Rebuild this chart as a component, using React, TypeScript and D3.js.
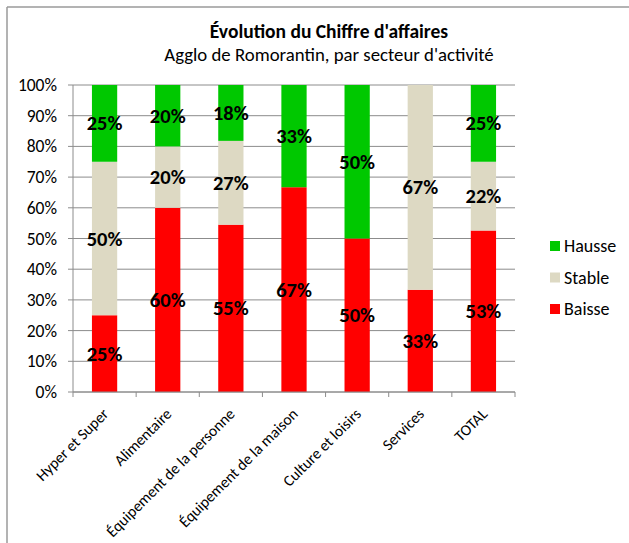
import * as d3 from 'd3';

const categories = [
  'Hyper et Super',
  'Alimentaire',
  'Équipement de la personne',
  'Équipement de la maison',
  'Culture et loisirs',
  'Services',
  'TOTAL',
];
const seriesNames = ['Baisse', 'Stable', 'Hausse'];
const baisse = [25, 60, 54.5, 66.7, 50, 33.3, 52.6];
const stable = [50, 20, 27.3, 0, 0, 66.7, 22.4];
const hausse = [25, 20, 18.2, 33.3, 50, 0, 25];
const yTicks = [0, 10, 20, 30, 40, 50, 60, 70, 80, 90, 100];

const colors: Record<string, string> = {
  Baisse: '#ff0000',
  Stable: '#ddd9c3',
  Hausse: '#00c800',
};

const FONT = 'Calibri, Carlito, Lato, sans-serif';

export default function App() {
  const width = 629;
  const height = 543;
  const plot = { left: 73, right: 515, top: 85, bottom: 392 };

  const rows = categories.map((c, i) => ({
    cat: c,
    Baisse: baisse[i],
    Stable: stable[i],
    Hausse: hausse[i],
  }));
  const stacked = d3.stack<any>().keys(seriesNames)(rows);

  const x = d3.scaleBand().domain(categories).range([plot.left, plot.right]).padding(0);
  const y = d3.scaleLinear().domain([0, 100]).range([plot.bottom, plot.top]);
  const barW = x.bandwidth() * 0.4;
  const grid = '#8c8c8c';

  // legend shown top-down: Hausse, Stable, Baisse
  const legendItems = [...seriesNames].reverse();

  return (
    <div style={{ position: 'fixed', left: 0, top: 0 }}>
      <svg width={width} height={height} style={{ display: 'block', background: '#fff' }}>
        {/* chart frame */}
        <line x1={7} x2={width} y1={7} y2={7} stroke="#9a9a9a" strokeWidth={1.5} />
        <line x1={7} x2={7} y1={7} y2={height} stroke="#9a9a9a" strokeWidth={1.5} />

        {/* titles */}
        <text x={329} y={38} textAnchor="middle" fontFamily={FONT} fontWeight="bold" fontSize={19.5} fill="#000">
          Évolution du Chiffre d'affaires
        </text>
        <text x={329} y={61} textAnchor="middle" fontFamily={FONT} fontSize={18.8} fill="#000">
          Agglo de Romorantin, par secteur d'activité
        </text>

        {/* gridlines + y axis */}
        {yTicks.map(t => (
          <g key={t}>
            <line x1={plot.left - 5} x2={plot.right} y1={y(t)} y2={y(t)} stroke={grid} strokeWidth={1} />
            <text
              x={57}
              y={y(t)}
              textAnchor="end"
              dominantBaseline="central"
              fontFamily={FONT}
              fontSize={17.5}
              fill="#000"
            >
              {t}%
            </text>
          </g>
        ))}
        <line x1={plot.left} x2={plot.left} y1={plot.top} y2={plot.bottom} stroke={grid} strokeWidth={1} />

        {/* bars */}
        {stacked.map(s => (
          <g key={s.key} fill={colors[s.key]}>
            {s.map((d, i) => {
              const h = y(d[0]) - y(d[1]);
              if (h <= 0) return null;
              return (
                <rect
                  key={i}
                  x={x(categories[i])! + (x.bandwidth() - barW) / 2}
                  y={y(d[1])}
                  width={barW}
                  height={h}
                />
              );
            })}
          </g>
        ))}

        {/* data labels */}
        {stacked.map(s => (
          <g key={s.key + '-lbl'}>
            {s.map((d, i) => {
              const v = d[1] - d[0];
              if (v <= 0) return null;
              return (
                <text
                  key={i}
                  x={x(categories[i])! + x.bandwidth() / 2}
                  y={y((d[0] + d[1]) / 2)}
                  textAnchor="middle"
                  dominantBaseline="central"
                  fontFamily={FONT}
                  fontWeight="bold"
                  fontSize={20.5}
                  fill="#000"
                >
                  {Math.round(v)}%
                </text>
              );
            })}
          </g>
        ))}

        {/* x axis */}
        <line x1={plot.left} x2={plot.right} y1={plot.bottom} y2={plot.bottom} stroke={grid} strokeWidth={1} />
        {[...categories.map(c => x(c)!), plot.right].map((px, i) => (
          <line key={i} x1={px} x2={px} y1={plot.bottom} y2={plot.bottom + 5} stroke={grid} strokeWidth={1} />
        ))}
        {categories.map(c => {
          const cx = x(c)! + x.bandwidth() / 2 + 1;
          return (
            <text
              key={c}
              transform={`translate(${cx},${plot.bottom + 19}) rotate(-45)`}
              textAnchor="end"
              dominantBaseline="central"
              fontFamily={FONT}
              fontSize={15.6}
              fill="#000"
            >
              {c}
            </text>
          );
        })}

        {/* legend */}
        {legendItems.map((k, i) => {
          const cy = 246 + i * 31.5;
          return (
            <g key={k}>
              <rect x={550} y={cy - 5} width={10} height={10} fill={colors[k]} />
              <text x={564} y={cy} dominantBaseline="central" fontFamily={FONT} fontSize={18} fill="#000">
                {k}
              </text>
            </g>
          );
        })}
      </svg>
    </div>
  );
}
